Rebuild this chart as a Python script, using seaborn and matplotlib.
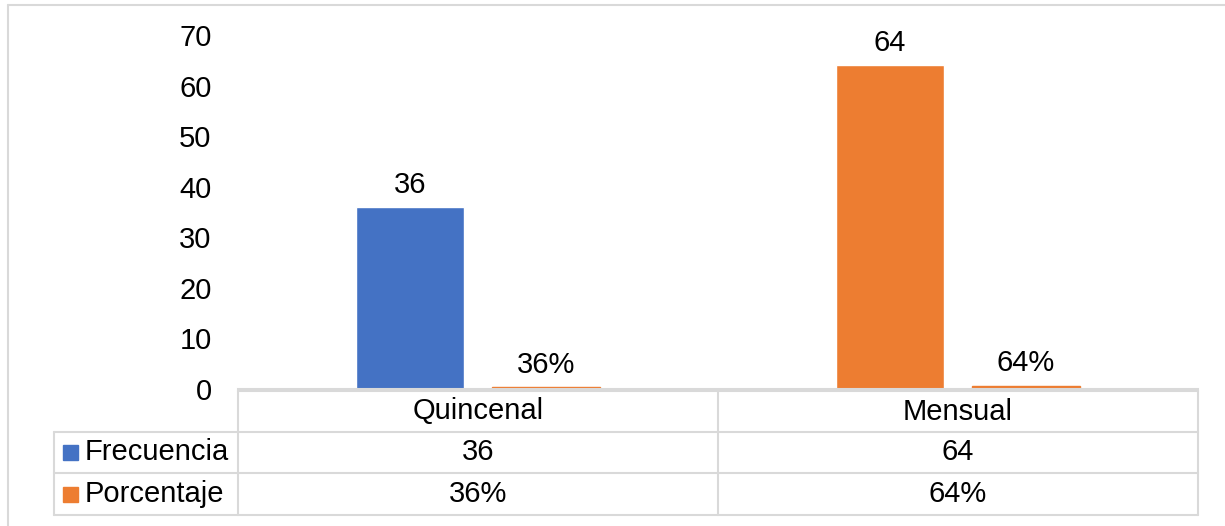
import pandas as pd
import matplotlib.pyplot as plt
import seaborn as sns
from matplotlib.lines import Line2D
from matplotlib.patches import Rectangle

# data
categories = ['Quincenal', 'Mensual']
series = ['Frecuencia', 'Porcentaje']
frecuencia = [36, 64]
porcentaje = [0.36, 0.64]
frec_labels = ['36', '64']
pct_labels = ['36%', '64%']
colors = ['#4472C4', '#ED7D31']
# the Mensual point of Frecuencia is recoloured orange in the original
frec_point_colors = ['#4472C4', '#ED7D31']

df = pd.DataFrame({
    'Periodo': categories * 2,
    'Serie': [series[0]] * 2 + [series[1]] * 2,
    'Valor': frecuencia + porcentaje,
})

sns.set_theme(style='white')
plt.rcParams['font.family'] = ['Liberation Sans', 'DejaVu Sans']
plt.rcParams['text.color'] = 'black'

W, H = 1225, 526
FS = 21
fig = plt.figure(figsize=(W / 100, H / 100), dpi=100, facecolor='white')
ax = fig.add_axes([238 / W, 1 - 389 / H, (1198 - 238) / W, (389 - 35) / H])

sns.barplot(data=df, x='Periodo', y='Valor', hue='Serie', order=categories,
            hue_order=series, palette=colors, width=0.567, gap=0.206,
            saturation=1, legend=False, ax=ax)

for patch, c in zip(ax.containers[0], frec_point_colors):
    patch.set_facecolor(c)
for patch in ax.containers[1]:
    patch.set_edgecolor(colors[1])

ax.set_ylim(0, 70)
ax.set_yticks(range(0, 71, 10))
ax.set_xlabel('')
ax.set_ylabel('')
ax.set_xticklabels([])
ax.tick_params(axis='y', length=0, pad=19, labelsize=FS, labelcolor='black')
ax.tick_params(axis='x', length=0)
for s in ['top', 'right', 'left']:
    ax.spines[s].set_visible(False)
ax.spines['bottom'].set_color('#d9d9d9')
ax.spines['bottom'].set_linewidth(1.5)

ax.bar_label(ax.containers[0], labels=frec_labels, padding=6, fontsize=FS, color='black')
ax.bar_label(ax.containers[1], labels=pct_labels, padding=6, fontsize=FS, color='black')


# data table under the chart, drawn in pixel positions
def fx(px):
    return px / W


def fy(py):
    return 1 - py / H


grid = '#d9d9d9'


def hline(x0, x1, y):
    fig.add_artist(Line2D([fx(x0), fx(x1)], [fy(y), fy(y)], color=grid, lw=1.5))


def vline(x, y0, y1):
    fig.add_artist(Line2D([fx(x), fx(x)], [fy(y0), fy(y1)], color=grid, lw=1.5))


col_edges = [238, 718, 1198]
row_edges = [391, 432, 473, 515]
hline(238, 1198, row_edges[0])
for y in row_edges[1:]:
    hline(54, 1198, y)
for x in col_edges:
    vline(x, row_edges[0], row_edges[-1])
vline(54, row_edges[1], row_edges[-1])

# outer chart border (top and left)
hline(8, W, 5)
vline(8, 5, H)

for i, cat in enumerate(categories):
    cx = (col_edges[i] + col_edges[i + 1]) / 2
    fig.text(fx(cx), fy((row_edges[0] + row_edges[1]) / 2), cat,
             ha='center', va='center', fontsize=FS)
    fig.text(fx(cx), fy((row_edges[1] + row_edges[2]) / 2), frec_labels[i],
             ha='center', va='center', fontsize=FS)
    fig.text(fx(cx), fy((row_edges[2] + row_edges[3]) / 2), pct_labels[i],
             ha='center', va='center', fontsize=FS)

for j, name in enumerate(series):
    cy = (row_edges[j + 1] + row_edges[j + 2]) / 2
    fig.add_artist(Rectangle((fx(63), fy(cy + 7.5)), 15 / W, 15 / H,
                             transform=fig.transFigure, color=colors[j]))
    fig.text(fx(85), fy(cy), name, ha='left', va='center', fontsize=FS)

fig.savefig('out.png', dpi=100, facecolor='white')
